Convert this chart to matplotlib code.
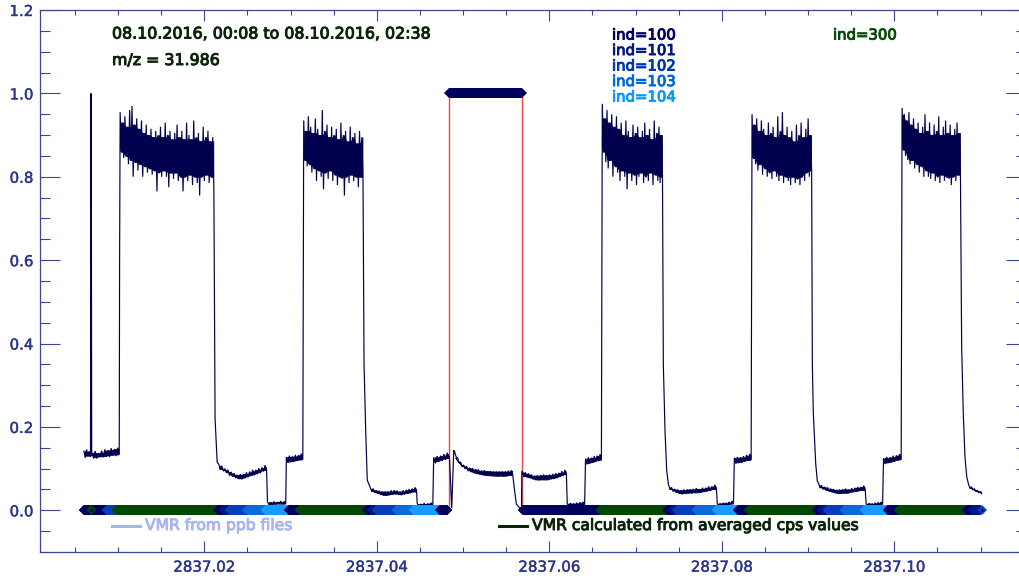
import numpy as np
import matplotlib
matplotlib.use("Agg")
import matplotlib.pyplot as plt
import matplotlib.patheffects as pe
from matplotlib.lines import Line2D
from matplotlib.ticker import MultipleLocator, FixedLocator, FormatStrFormatter

# ---------------------------------------------------------------------------
# Day number of 08.10.2016; all times below are minutes after 00:00 UT
DAY0 = 2837.0

# Noisy plateaus of the m/z 31.986 VMR trace: time span and the upper /
# lower excursions of the signal across each plateau
plateau_spans = [
    (8.71, 9.80), (10.05, 14.60), (14.75, 30.40), (31.20, 39.20),
    (39.35, 42.40), (42.50, 45.25), (45.40, 55.30), (56.50, 64.25),
    (64.35, 66.95), (67.10, 69.65), (70.60, 80.30), (81.90, 89.25),
    (89.40, 92.30), (92.45, 95.10), (95.25, 105.30), (106.30, 114.30),
    (114.45, 117.15), (117.30, 120.10), (120.25, 130.20), (131.35, 139.15),
    (139.30, 142.05), (142.20, 145.15), (145.30, 155.05), (156.40, 158.60),
]

start_a_hi = [0.142, 0.146, 0.141]
start_a_lo = [0.126, 0.131, 0.128]
start_b_hi = [0.138, 0.142, 0.137, 0.143, 0.146, 0.144, 0.149, 0.147, 0.150]
start_b_lo = [0.126, 0.124, 0.129, 0.127, 0.130, 0.128, 0.133, 0.130, 0.134]

high_1_hi = [0.955, 0.930, 0.945, 0.920, 0.960, 0.970, 0.925, 0.940, 0.915, 0.935,
             0.905, 0.925, 0.900, 0.915, 0.895, 0.910, 0.900, 0.920, 0.895, 0.930,
             0.900, 0.910, 0.890, 0.905, 0.925, 0.895, 0.910, 0.890, 0.930, 0.900,
             0.890, 0.935, 0.895, 0.905, 0.885, 0.920, 0.895, 0.910, 0.885, 0.895]
high_1_lo = [0.860, 0.845, 0.850, 0.830, 0.840, 0.800, 0.835, 0.815, 0.830, 0.800,
             0.825, 0.810, 0.820, 0.805, 0.815, 0.765, 0.810, 0.800, 0.815, 0.800,
             0.775, 0.810, 0.795, 0.810, 0.790, 0.800, 0.765, 0.800, 0.790, 0.805,
             0.780, 0.800, 0.785, 0.755, 0.800, 0.790, 0.805, 0.785, 0.800, 0.770]

base_1_hi = [0.111, 0.107, 0.100, 0.097, 0.092, 0.089, 0.085, 0.087,
             0.087, 0.091, 0.093, 0.097, 0.097, 0.101, 0.103, 0.108]
base_1_lo = [0.099, 0.094, 0.090, 0.083, 0.082, 0.077, 0.075, 0.074,
             0.077, 0.079, 0.083, 0.084, 0.087, 0.089, 0.093, 0.097]
zero_1_hi = [0.020, 0.019, 0.021, 0.020, 0.022, 0.021]
zero_1_lo = [0.014, 0.015, 0.014, 0.016, 0.015, 0.016]
step_1_hi = [0.128, 0.131, 0.129, 0.133, 0.132, 0.136]
step_1_lo = [0.114, 0.117, 0.116, 0.119, 0.120, 0.122]

high_2_hi = [0.935, 0.910, 0.945, 0.920, 0.905, 0.940, 0.915, 0.900, 0.960, 0.910,
             0.925, 0.895, 0.920, 0.900, 0.915, 0.890, 0.930, 0.900, 0.910, 0.885,
             0.920, 0.895, 0.905, 0.880, 0.910, 0.895]
high_2_lo = [0.840, 0.825, 0.830, 0.810, 0.820, 0.790, 0.815, 0.800, 0.770, 0.810,
             0.795, 0.815, 0.790, 0.805, 0.780, 0.800, 0.795, 0.755, 0.800, 0.785,
             0.805, 0.790, 0.800, 0.775, 0.800, 0.790]

base_2_hi = [0.055, 0.052, 0.048, 0.047, 0.045, 0.045, 0.045, 0.048,
             0.048, 0.047, 0.045, 0.048, 0.049, 0.051, 0.052, 0.055]
base_2_lo = [0.046, 0.042, 0.040, 0.037, 0.037, 0.035, 0.037, 0.038,
             0.040, 0.037, 0.037, 0.038, 0.041, 0.041, 0.044, 0.045]
zero_2_hi = [0.016, 0.015, 0.017, 0.016, 0.018]
zero_2_lo = [0.010, 0.011, 0.010, 0.012, 0.012]
step_2_hi = [0.127, 0.130, 0.131, 0.135, 0.138]
step_2_lo = [0.113, 0.116, 0.119, 0.121, 0.125]

flush_hi = [0.140, 0.126, 0.116, 0.109, 0.106, 0.102, 0.101, 0.098, 0.098, 0.095,
            0.096, 0.094, 0.094, 0.093, 0.093, 0.093, 0.093, 0.093, 0.095, 0.096]
flush_lo = [0.128, 0.114, 0.104, 0.099, 0.094, 0.092, 0.089, 0.088, 0.086, 0.085,
            0.084, 0.084, 0.082, 0.083, 0.081, 0.083, 0.081, 0.083, 0.083, 0.085]

base_3_hi = [0.094, 0.091, 0.088, 0.086, 0.083, 0.084, 0.084, 0.086,
             0.084, 0.086, 0.087, 0.089, 0.090, 0.094, 0.097]
base_3_lo = [0.082, 0.079, 0.078, 0.074, 0.073, 0.072, 0.074, 0.074,
             0.074, 0.074, 0.077, 0.077, 0.080, 0.082, 0.087]
zero_3_hi = [0.016, 0.017, 0.016, 0.018, 0.019, 0.020]
zero_3_lo = [0.010, 0.011, 0.011, 0.012, 0.013, 0.014]
step_3_hi = [0.124, 0.127, 0.126, 0.130, 0.131, 0.134]
step_3_lo = [0.110, 0.113, 0.114, 0.116, 0.118, 0.121]

high_3_hi = [0.975, 0.940, 0.960, 0.930, 0.950, 0.920, 0.945, 0.915, 0.930, 0.900,
             0.935, 0.910, 0.895, 0.925, 0.905, 0.920, 0.895, 0.910, 0.930, 0.900,
             0.915, 0.890, 0.935, 0.905, 0.920, 0.900]
high_3_lo = [0.860, 0.835, 0.820, 0.840, 0.800, 0.825, 0.810, 0.790, 0.815, 0.800,
             0.770, 0.810, 0.790, 0.805, 0.780, 0.800, 0.810, 0.785, 0.800, 0.790,
             0.810, 0.780, 0.805, 0.790, 0.785, 0.800]

base_4_hi = [0.061, 0.055, 0.051, 0.050, 0.048, 0.050, 0.050, 0.050,
             0.051, 0.053, 0.051, 0.054, 0.054, 0.057, 0.057, 0.061]
base_4_lo = [0.051, 0.045, 0.043, 0.040, 0.040, 0.040, 0.042, 0.040,
             0.043, 0.043, 0.043, 0.044, 0.046, 0.047, 0.049, 0.051]
zero_4_hi = [0.016, 0.017, 0.018, 0.018, 0.020, 0.022]
zero_4_lo = [0.010, 0.011, 0.012, 0.013, 0.014, 0.016]
step_4_hi = [0.126, 0.128, 0.127, 0.130, 0.133, 0.135]
step_4_lo = [0.112, 0.115, 0.114, 0.117, 0.119, 0.121]

high_4_hi = [0.950, 0.925, 0.940, 0.910, 0.935, 0.915, 0.900, 0.930, 0.905, 0.920,
             0.895, 0.945, 0.910, 0.955, 0.900, 0.920, 0.895, 0.910, 0.885, 0.925,
             0.900, 0.930, 0.895, 0.915, 0.940, 0.900]
high_4_lo = [0.845, 0.830, 0.815, 0.830, 0.805, 0.820, 0.800, 0.810, 0.795, 0.815,
             0.800, 0.790, 0.805, 0.785, 0.800, 0.790, 0.780, 0.800, 0.785, 0.795,
             0.780, 0.800, 0.790, 0.810, 0.800, 0.815]

base_5_hi = [0.065, 0.060, 0.056, 0.055, 0.052, 0.051, 0.049, 0.050,
             0.050, 0.052, 0.050, 0.053, 0.054, 0.056, 0.056, 0.059]
base_5_lo = [0.055, 0.050, 0.048, 0.045, 0.044, 0.041, 0.041, 0.040,
             0.042, 0.042, 0.042, 0.043, 0.046, 0.046, 0.048, 0.049]
zero_5_hi = [0.016, 0.017, 0.016, 0.018, 0.019, 0.020]
zero_5_lo = [0.010, 0.011, 0.011, 0.012, 0.013, 0.015]
step_5_hi = [0.125, 0.128, 0.127, 0.131, 0.132, 0.135]
step_5_lo = [0.111, 0.114, 0.115, 0.117, 0.119, 0.122]

high_5_hi = [0.965, 0.950, 0.935, 0.955, 0.925, 0.940, 0.915, 0.930, 0.905, 0.920,
             0.950, 0.910, 0.930, 0.900, 0.925, 0.910, 0.945, 0.900, 0.920, 0.935,
             0.905, 0.925, 0.900, 0.915, 0.930, 0.905]
high_5_lo = [0.865, 0.850, 0.840, 0.830, 0.840, 0.820, 0.830, 0.810, 0.825, 0.800,
             0.815, 0.800, 0.795, 0.810, 0.790, 0.800, 0.785, 0.805, 0.790, 0.800,
             0.795, 0.780, 0.800, 0.790, 0.805, 0.795]

tail_hi = [0.062, 0.056, 0.052, 0.048, 0.045]
tail_lo = [0.054, 0.049, 0.045, 0.042, 0.040]

# Single readings on the fast rises / decays between plateaus
step_t = [9.88, 9.95, 10.00, 14.66, 30.45, 30.60, 30.95, 55.47, 55.75, 56.01,
          69.72, 70.11, 70.45, 80.50, 80.90, 81.50, 81.76, 81.82,
          105.44, 105.72, 106.00, 130.32, 130.48, 130.88, 131.15,
          155.25, 155.52, 155.80, 156.10]
step_v = [1.000, 0.720, 0.130, 0.600, 0.640, 0.220, 0.115, 0.350, 0.190, 0.072,
          0.130, 0.005, 0.144, 0.060, 0.015, 0.005, 0.005, 0.092,
          0.350, 0.190, 0.096, 0.350, 0.233, 0.112, 0.070,
          0.390, 0.233, 0.128, 0.080]

# Valve index (ind) timeline: start, end, index
ind_t0 = [8.71, 10.00, 12.50, 14.17, 31.14, 32.09, 33.09, 36.01, 39.02, 42.94,
          44.78, 56.01, 56.80, 57.63, 60.92, 63.81, 68.15, 82.01, 94.98, 106.13,
          106.97, 107.80, 111.06, 114.37, 117.91, 119.74, 131.10, 131.90, 132.85,
          135.77, 139.11, 142.95, 144.79, 156.10, 156.98]
ind_t1 = [9.85, 12.45, 14.12, 31.09, 32.04, 33.04, 35.96, 38.97, 42.89, 44.73,
          55.96, 56.75, 57.58, 60.87, 63.76, 68.10, 69.40, 94.93, 106.08, 106.92,
          107.75, 111.01, 114.32, 117.86, 119.69, 131.05, 131.85, 132.80, 135.72,
          139.06, 142.90, 144.74, 156.05, 156.93, 158.40]
ind_val = [100, 100, 102, 300, 100, 101, 102, 103, 104, 100,
           300, 100, 101, 102, 103, 104, 100, 100, 300, 100,
           101, 102, 103, 104, 100, 300, 100, 101, 102,
           103, 104, 100, 300, 100, 101]
# isolated single-reading indices
ind_single_t = [9.90, 158.60]
ind_single_val = [300, 102]

# Interval flagged on top of the plot (ind=100), bounded by red markers
flag_t = [69.71, 81.79]
flag_level = 1.0

ind_colors = {100: "#00005e", 101: "#001682", 102: "#0a3cc0",
              103: "#0a6ade", 104: "#159cff", 300: "#004800"}
ind_label_colors = {100: "#00005e", 101: "#001682", 102: "#0035b0",
                    103: "#0066d8", 104: "#0899ff", 300: "#0a4a0a"}

x_ticks_major = 0.02
y_tick_values = [0.0, 0.2, 0.4, 0.6, 0.8, 1.0, 1.2]

title_line = "08.10.2016, 00:08 to 08.10.2016, 02:38"
mass_line = "m/z = 31.986"
legend_ppb = "VMR from ppb files"
legend_cps = "VMR calculated from averaged cps values"
# ---------------------------------------------------------------------------

W, H = 1020, 578
fig = plt.figure(figsize=(W / 100, H / 100), dpi=100)
ax = fig.add_axes([40 / W, 26 / H, 986 / W, 542 / H])

axis_color = "#3a4596"
label_color = "#2c378a"
trace_color = "#00004e"
text_dark = "#0a240a"


def day(minutes):
    return DAY0 + np.asarray(minutes, dtype=float) / 1440.0


# --- build the VMR trace: plateaus as up/down excursions plus step readings
plateau_hi = [start_a_hi, start_b_hi, high_1_hi, base_1_hi, zero_1_hi, step_1_hi,
              high_2_hi, base_2_hi, zero_2_hi, step_2_hi, flush_hi, base_3_hi,
              zero_3_hi, step_3_hi, high_3_hi, base_4_hi, zero_4_hi, step_4_hi,
              high_4_hi, base_5_hi, zero_5_hi, step_5_hi, high_5_hi, tail_hi]
plateau_lo = [start_a_lo, start_b_lo, high_1_lo, base_1_lo, zero_1_lo, step_1_lo,
              high_2_lo, base_2_lo, zero_2_lo, step_2_lo, flush_lo, base_3_lo,
              zero_3_lo, step_3_lo, high_3_lo, base_4_lo, zero_4_lo, step_4_lo,
              high_4_lo, base_5_lo, zero_5_lo, step_5_lo, high_5_lo, tail_lo]

tt, vv = [], []
for (t0, t1), hi, lo in zip(plateau_spans, plateau_hi, plateau_lo):
    hi = np.asarray(hi)
    lo = np.asarray(lo)
    n = len(hi)
    times = np.linspace(t0, t1, 2 * n)
    vals = np.empty(2 * n)
    vals[0::2] = hi
    vals[1::2] = lo
    tt.extend(times)
    vv.extend(vals)

    # densely sampled core of the plateau: region crossed by every excursion
    pad_hi = np.concatenate([hi[:1], hi, hi[-1:]])
    pad_lo = np.concatenate([lo[:1], lo, lo[-1:]])
    core_top = np.minimum(np.minimum(pad_hi[:-2], pad_hi[1:-1]), pad_hi[2:])
    core_bot = np.maximum(np.maximum(pad_lo[:-2], pad_lo[1:-1]), pad_lo[2:])
    core_bot = np.minimum(core_bot, core_top)
    tc = 0.5 * (times[0::2] + times[1::2])
    ax.fill_between(day(tc), core_bot, core_top, color=trace_color, lw=0.6,
                    edgecolor=trace_color, zorder=3)

tt.extend(step_t)
vv.extend(step_v)
order = np.argsort(tt)
trace_t = np.asarray(tt)[order]
trace_v = np.asarray(vv)[order]

# red markers of the flagged interval
for t in flag_t:
    ax.plot(day([t, t]), [0.0, flag_level], color="#f04848", lw=1.0, zorder=2)

ax.plot(day(trace_t), trace_v, color=trace_color, lw=0.85, zorder=3,
        solid_joinstyle="miter")

# --- ind timeline drawn as dense diamond symbols along y = 0
ms_bar = 5.0
for t0, t1, ind in zip(ind_t0, ind_t1, ind_val):
    ts = np.arange(t0, t1 + 1e-9, 0.04)
    ax.plot(day(ts), np.zeros_like(ts), ls="none", marker="D", ms=ms_bar,
            mew=0, color=ind_colors[ind], zorder=4)
for t, ind in zip(ind_single_t, ind_single_val):
    ax.plot(day([t]), [0.0], ls="none", marker="D", ms=ms_bar, mew=0,
            color=ind_colors[ind], zorder=5)
    ax.plot(day([t]), [0.0], ls="none", marker="D", ms=1.8, mew=0,
            color=ind_colors[100], zorder=6)

ts = np.arange(flag_t[0], flag_t[1] + 1e-9, 0.04)
ax.plot(day(ts), np.full_like(ts, flag_level), ls="none", marker="D", ms=ms_bar,
        mew=0, color=ind_colors[100], zorder=4)

# --- axes
ax.set_xlim(day(1.37), day(165.99))
ax.set_ylim(-0.1, 1.2)
ax.xaxis.set_major_locator(MultipleLocator(x_ticks_major))
ax.xaxis.set_minor_locator(MultipleLocator(x_ticks_major / 4))
ax.xaxis.set_major_formatter(FormatStrFormatter("%.2f"))
ax.yaxis.set_major_locator(FixedLocator(y_tick_values))
ax.yaxis.set_minor_locator(MultipleLocator(0.05))
ax.yaxis.set_major_formatter(FormatStrFormatter("%.1f"))

for sp in ax.spines.values():
    sp.set_color(axis_color)
    sp.set_linewidth(0.9)

ax.tick_params(which="both", direction="in", top=True, right=True,
               color=axis_color, labelcolor=label_color, labelsize=10.8, width=0.8)
ax.tick_params(axis="y", which="major", length=14.2, pad=4.8)
ax.tick_params(axis="y", which="minor", length=7.1)
ax.tick_params(axis="x", which="major", length=7.8, pad=5.5)
ax.tick_params(axis="x", which="minor", length=3.9)

for lab in ax.get_xticklabels() + ax.get_yticklabels():
    lab.set_path_effects([pe.withStroke(linewidth=0.3, foreground=label_color)])


def fig_text(x, y, s, color, size=11.2):
    fig.text(x / W, 1 - y / H, s, color=color, fontsize=size,
             ha="left", va="center", family="DejaVu Sans",
             path_effects=[pe.withStroke(linewidth=0.7, foreground=color)])


fig_text(112, 34, title_line, text_dark, 11.4)
fig_text(112, 60.5, mass_line, text_dark, 11.4)

for k, ind in enumerate([100, 101, 102, 103, 104]):
    fig_text(612, 35 + 15.5 * k, f"ind={ind}", ind_label_colors[ind], 10.7)
fig_text(833, 35, "ind=300", ind_label_colors[300], 10.7)

# legend entries under the timeline
fig.add_artist(Line2D([112 / W, 140 / W], [1 - 526 / H] * 2, color="#a6b4f0", lw=2.2))
fig_text(145, 525.5, legend_ppb, "#a6b4f0", 11.2)
fig.add_artist(Line2D([499 / W, 527 / W], [1 - 526 / H] * 2, color=text_dark, lw=2.2))
fig_text(532, 525.5, legend_cps, text_dark, 11.2)

fig.savefig("out.png", dpi=100)
